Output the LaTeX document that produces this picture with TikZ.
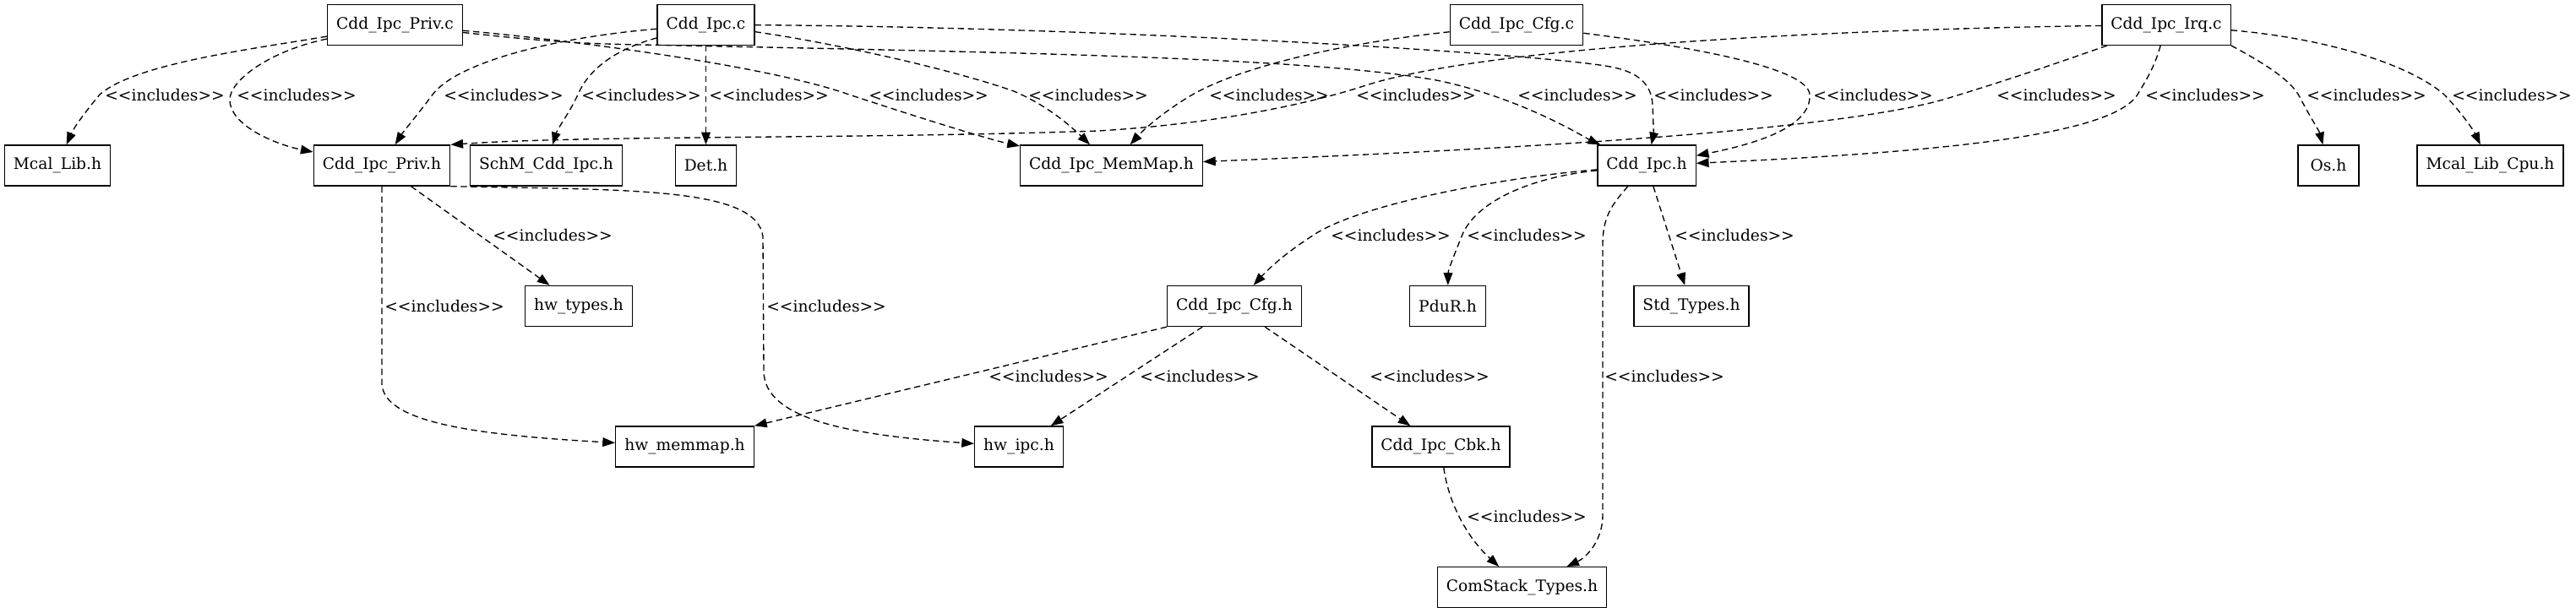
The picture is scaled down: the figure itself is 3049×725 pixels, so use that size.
\documentclass[tikz,border=0pt]{standalone}
\usepackage{fontspec}
\newfontfamily\gvfont{DejaVu Serif}[Ligatures=TeXOff]
\usetikzlibrary{arrows.meta}
\begin{document}
\begin{tikzpicture}[x=0.75pt,y=-0.75pt,
  gvbox/.style={draw, line width=1pt, minimum height=36pt, minimum width=54pt, inner xsep=7.92pt, inner ysep=0pt, font=\gvfont\fontsize{14}{16}\selectfont},
  inc/.style={draw, line width=1pt, dash pattern=on 5.5pt off 3.5pt, -{Triangle[length=11pt,width=8pt]}},
  lbl/.style={anchor=west, inner sep=0pt, font=\gvfont\fontsize{14}{16}\selectfont}]
\fill[white] (0,0) rectangle (3049,725);
% rank 0
\node[gvbox] (privc) at (467.5,29.3) {Cdd\_Ipc\_Priv.c};
\node[gvbox] (ipcc) at (835.5,29.3) {Cdd\_Ipc.c};
\node[gvbox] (cfgc) at (1795,29.3) {Cdd\_Ipc\_Cfg.c};
\node[gvbox] (irqc) at (2564,29.3) {Cdd\_Ipc\_Irq.c};
% rank 1
\node[gvbox] (mcallib) at (68,196) {Mcal\_Lib.h};
\node[gvbox] (privh) at (452,196) {Cdd\_Ipc\_Priv.h};
\node[gvbox] (schm) at (646.5,196) {SchM\_Cdd\_Ipc.h};
\node[gvbox] (det) at (835.5,196) {Det.h};
\node[gvbox] (memmap) at (1315.5,196) {Cdd\_Ipc\_MemMap.h};
\node[gvbox] (ipch) at (1949,196) {Cdd\_Ipc.h};
\node[gvbox] (os) at (2756,196) {Os.h};
\node[gvbox] (mcalcpu) at (2947.5,196) {Mcal\_Lib\_Cpu.h};
% rank 2
\node[gvbox] (hwtypes) at (685,362.5) {hw\_types.h};
\node[gvbox] (cfgh) at (1461,362.5) {Cdd\_Ipc\_Cfg.h};
\node[gvbox] (pdur) at (1713.5,362.5) {PduR.h};
\node[gvbox] (stdtypes) at (2002,362.5) {Std\_Types.h};
% rank 3
\node[gvbox] (hwmemmap) at (810.5,529) {hw\_memmap.h};
\node[gvbox] (hwipc) at (1206,529) {hw\_ipc.h};
\node[gvbox] (cbkh) at (1705.5,529) {Cdd\_Ipc\_Cbk.h};
% rank 4
\node[gvbox] (comstack) at (1801.5,695.7) {ComStack\_Types.h};

% edges from Cdd_Ipc_Priv.c
\draw[inc] (privc) .. controls (300,58) and (160,75) .. (118,112) .. controls (103,130) and (88,150) .. (mcallib);
\draw[inc] (privc) .. controls (320,60) and (272,95) .. (272,118) .. controls (272,150) and (330,172) .. (privh);
\draw[inc] (privc) .. controls (650,45) and (900,75) .. (1005,112) .. controls (1090,140) and (1170,165) .. (memmap);
\draw[inc] (privc) .. controls (650,50) and (700,52) .. (760,53) .. controls (1200,62) and (1550,68) .. (1700,95) .. controls (1800,115) and (1880,165) .. (ipch);
% edges from Cdd_Ipc.c
\draw[inc] (ipcc) .. controls (650,45) and (540,75) .. (512,112) .. controls (495,135) and (478,155) .. (privh);
\draw[inc] (ipcc) .. controls (740,55) and (700,75) .. (684,112) .. controls (675,132) and (660,152) .. (schm);
\draw[inc] (ipcc) -- (det);
\draw[inc] (ipcc) .. controls (980,50) and (1120,80) .. (1200,108) .. controls (1240,125) and (1268,150) .. (memmap);
\draw[inc] (ipcc) .. controls (1300,32) and (1800,62) .. (1900,78) .. controls (1940,84) and (1955,100) .. (1956,125) .. controls (1957,145) and (1957,160) .. (ipch);
% edges from Cdd_Ipc_Cfg.c
\draw[inc] (cfgc) .. controls (1600,50) and (1480,75) .. (1415,110) .. controls (1380,130) and (1355,152) .. (memmap);
\draw[inc] (cfgc) .. controls (2000,55) and (2140,80) .. (2142,112) .. controls (2144,150) and (2080,170) .. (ipch);
% edges from Cdd_Ipc_Irq.c
\draw[inc] (irqc) .. controls (2100,36) and (1750,60) .. (1620,100) .. controls (1560,120) and (1450,146) .. (1300,155) .. controls (1000,165) and (700,160) .. (privh.north east);
\draw[inc] (irqc) .. controls (2420,80) and (2360,100) .. (2300,118) .. controls (2150,160) and (1700,180) .. (memmap);
\draw[inc] (irqc) .. controls (2550,80) and (2540,95) .. (2530,112) .. controls (2500,160) and (2300,180) .. (ipch);
\draw[inc] (irqc.south east) .. controls (2680,75) and (2712,95) .. (2722,115) .. controls (2735,140) and (2745,155) .. (os);
\draw[inc] (irqc) .. controls (2750,45) and (2850,75) .. (2893,112) .. controls (2915,135) and (2928,155) .. (mcalcpu);
% edges from Cdd_Ipc_Priv.h
\draw[inc] (privh) -- (hwtypes);
\draw[inc] (privh.south) -- (452,455) .. controls (455,500) and (560,515) .. (hwmemmap);
\draw[inc] (privh.south east) .. controls (750,225) and (895,222) .. (903,280) -- (904,440) .. controls (905,495) and (1000,515) .. (hwipc);
% edges from Cdd_Ipc.h
\draw[inc] (ipch) .. controls (1780,210) and (1620,240) .. (1560,275) .. controls (1520,300) and (1500,320) .. (cfgh);
\draw[inc] (ipch) .. controls (1810,210) and (1745,240) .. (1730,280) .. controls (1720,305) and (1714,320) .. (pdur);
\draw[inc] (ipch) -- (stdtypes);
\draw[inc] (ipch) .. controls (1905,245) and (1897,260) .. (1897,290) -- (1897,610) .. controls (1897,640) and (1878,660) .. (comstack);
% edges from Cdd_Ipc_Cfg.h
\draw[inc] (cfgh.south west) -- (hwmemmap.north east);
\draw[inc] (cfgh) -- (hwipc);
\draw[inc] (cfgh) -- (cbkh);
% edge from Cdd_Ipc_Cbk.h
\draw[inc] (cbkh) .. controls (1715,600) and (1740,640) .. (comstack);

% labels
\foreach \lx [count=\i] in {124,280,525,688,839,1028,1217,1431,1605,1796,1957,2146,2363,2539,2730,2902}
  \node[lbl] (la\i) at (\lx,112.7) {<<includes>>};
\foreach \lx [count=\i] in {583,1575,1736,1982}
  \node[lbl] (lb\i) at (\lx,279) {<<includes>>};
\foreach \lx [count=\i] in {455,907}
  \node[lbl] (lc\i) at (\lx,362.5) {<<includes>>};
\foreach \lx [count=\i] in {1170,1349,1621,1899}
  \node[lbl] (ld\i) at (\lx,446) {<<includes>>};
\node[lbl] (le1) at (1736,612) {<<includes>>};
\end{tikzpicture}
\end{document}
